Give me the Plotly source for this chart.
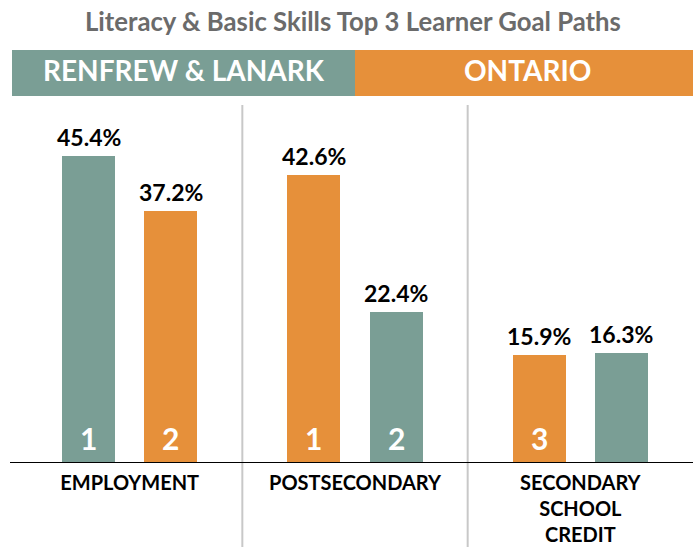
import plotly.graph_objects as go

# ---- data ----
categories = ["EMPLOYMENT", "POSTSECONDARY", "SECONDARY<br>SCHOOL<br>CREDIT"]
renfrew_values = [45.4, 22.4, 16.3]
ontario_values = [37.2, 42.6, 15.9]
renfrew_ranks = ["1", "2", ""]
ontario_ranks = ["2", "1", "3"]
region_names = ["RENFREW & LANARK", "ONTARIO"]
title_text = "Literacy & Basic Skills Top 3 Learner Goal Paths"

TEAL = "#7A9E95"
ORANGE = "#E6903A"
FONT = "Lato"

W, H = 693, 547
ML, MR, MT, MB = 17, 0, 105, 84
PW, PH = W - ML - MR, H - MT - MB


def px2x(px):
    return (px - ML) / PW


def py2y(py):
    return (H - MB - py) / PH


BAR_W = 0.235
LEFT_OFF = -0.30
RIGHT_OFF = 0.065

# the better-ranked series sits on the left of each group
def rank_num(r):
    return int(r) if r else 99

ren_off = [LEFT_OFF if rank_num(a) < rank_num(b) else RIGHT_OFF
           for a, b in zip(renfrew_ranks, ontario_ranks)]
ont_off = [RIGHT_OFF if o == LEFT_OFF else LEFT_OFF for o in ren_off]

fig = go.Figure()
for name, vals, offs, color in [
    (region_names[0], renfrew_values, ren_off, TEAL),
    (region_names[1], ontario_values, ont_off, ORANGE),
]:
    fig.add_trace(go.Bar(
        x=categories, y=vals, name=name, marker_color=color,
        offset=offs, width=[BAR_W] * len(vals), marker_line_width=0,
        hoverinfo="skip", showlegend=False,
    ))

annotations = []
for vals, offs, ranks in [(renfrew_values, ren_off, renfrew_ranks),
                          (ontario_values, ont_off, ontario_ranks)]:
    for i, (v, o, r) in enumerate(zip(vals, offs, ranks)):
        xc = i + o + BAR_W / 2
        annotations.append(dict(
            x=xc, y=v, xref="x", yref="y", text=f"<b>{v:.1f}%</b>",
            showarrow=False, yanchor="bottom", yshift=3,
            font=dict(family=FONT, size=23, color="#000000")))
        if r:
            annotations.append(dict(
                x=xc, y=0, xref="x", yref="y", text=f"<b>{r}</b>",
                showarrow=False, yanchor="bottom", yshift=5,
                font=dict(family=FONT, size=30, color="white")))

# title
annotations.append(dict(
    x=px2x(353), y=py2y(21), xref="paper", yref="paper", text=f"<b>{title_text}</b>",
    showarrow=False, xanchor="center", yanchor="middle",
    font=dict(family=FONT, size=25.7, color="#6B6B6B")))

# header band labels
annotations.append(dict(
    x=px2x(184), y=py2y(70), xref="paper", yref="paper", text=f"<b>{region_names[0]}</b>",
    showarrow=False, xanchor="center", yanchor="middle",
    font=dict(family=FONT, size=28, color="white")))
annotations.append(dict(
    x=px2x(527), y=py2y(70), xref="paper", yref="paper", text=f"<b>{region_names[1]}</b>",
    showarrow=False, xanchor="center", yanchor="middle",
    font=dict(family=FONT, size=28, color="white")))

shapes = [
    dict(type="rect", xref="paper", yref="paper", x0=px2x(12), x1=px2x(355),
         y0=py2y(96), y1=py2y(50), fillcolor=TEAL, line_width=0, layer="below"),
    dict(type="rect", xref="paper", yref="paper", x0=px2x(355), x1=px2x(693),
         y0=py2y(96), y1=py2y(50), fillcolor=ORANGE, line_width=0, layer="below"),
]
for sx in [0.5, 1.5]:
    shapes.append(dict(type="line", xref="x", yref="paper", x0=sx, x1=sx,
                       y0=py2y(547), y1=py2y(105),
                       line=dict(color="#C8C8C8", width=2), layer="below"))
shapes.append(dict(type="line", xref="paper", yref="y", x0=px2x(10), x1=px2x(693),
                   y0=0, y1=0, line=dict(color="black", width=2)))

fig.update_layout(
    width=W, height=H,
    margin=dict(l=ML, r=MR, t=MT, b=MB, pad=0, autoexpand=False),
    paper_bgcolor="white", plot_bgcolor="white",
    annotations=annotations, shapes=shapes,
    xaxis=dict(
        type="category", range=[-0.5, 2.5], showgrid=False, zeroline=False,
        showline=False, ticks="", tickmode="array", tickvals=categories,
        ticktext=[f"<b>{c}</b>" for c in categories],
        tickfont=dict(family=FONT, size=20, color="black"),
        ticklabelstandoff=6, automargin=False,
        fixedrange=True,
    ),
    yaxis=dict(range=[0, 52.94], showgrid=False, zeroline=False, automargin=False,
               showticklabels=False, showline=False, fixedrange=True),
    bargap=0, barmode="overlay",
)

fig.write_html("out.html", config={"displayModeBar": False},
               post_script="document.body.style.margin='0';document.body.style.overflow='hidden';")
